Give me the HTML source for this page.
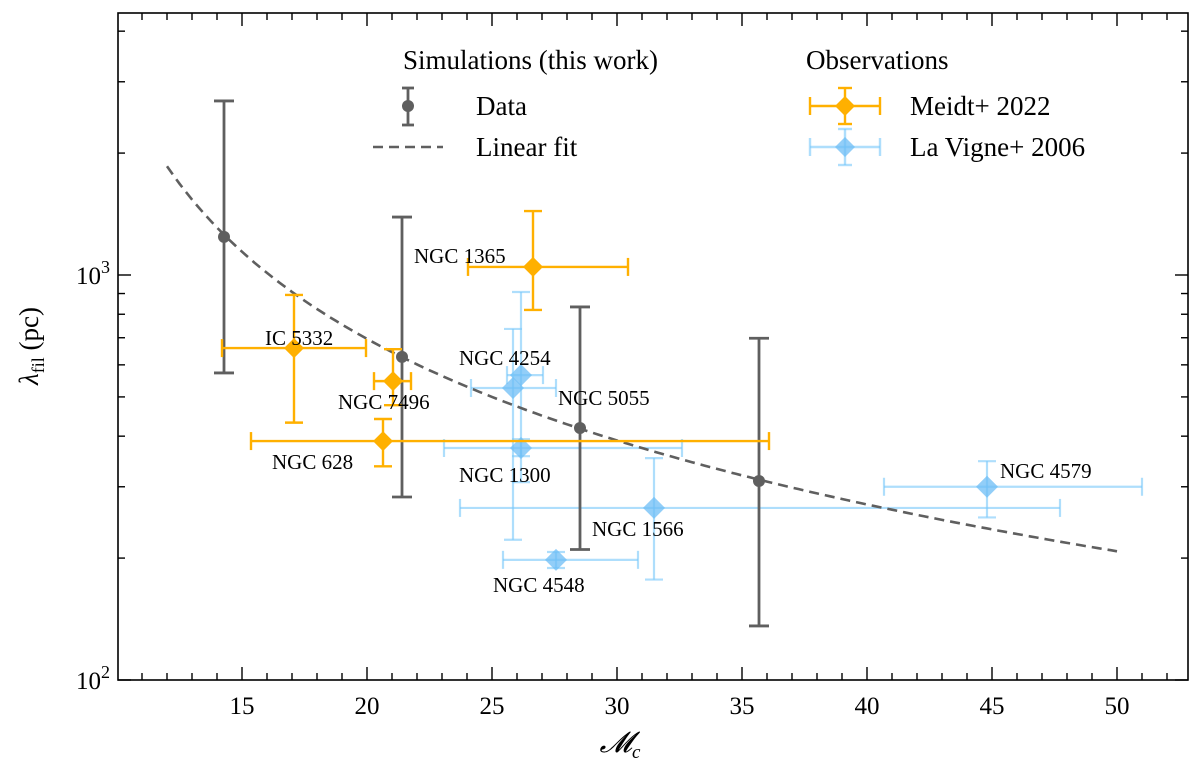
<!DOCTYPE html>
<html><head><meta charset="utf-8"><style>
body{margin:0;background:#fff}
svg text{font-family:"Liberation Serif","DejaVu Serif",serif;fill:#000}
</style></head><body>
<svg id="c" width="1200" height="771" viewBox="0 0 1200 771" xmlns="http://www.w3.org/2000/svg">
<g id="plot"></g>
</svg>
<script>
// Simulations
const simX=[14.28,21.4,28.52,35.68];
const simY=[1242,628,419,310];
const simYlo=[573,283,210,136];
const simYhi=[2690,1390,834,698];
// Linear fit: 1/lambda = a + b*M
const fitA=-0.00081, fitB=0.0001124, fitRange=[12,50];
// Meidt+2022
const meidtNames=["NGC 1365","IC 5332","NGC 7496","NGC 628"];
const meidtX=[26.64,17.08,21.04,20.64];
const meidtXlo=[24.04,14.2,20.28,15.36];
const meidtXhi=[30.44,19.96,21.76,36.08];
const meidtY=[1047,660,547,389];
const meidtYlo=[820,432,477,337];
const meidtYhi=[1438,893,656,441];
// La Vigne+2006
const lvNames=["NGC 4254","NGC 5055","NGC 1300","NGC 1566","NGC 4548","NGC 4579"];
const lvX=[26.16,25.84,26.16,31.48,27.56,44.8];
const lvXlo=[25.6,24.16,23.08,23.72,25.44,40.68];
const lvXhi=[27.04,27.56,32.6,47.72,30.84,51.0];
const lvY=[566,526,374,266,198,300];
const lvYlo=[308,222,357,177,189,252];
const lvYhi=[908,736,393,353,207,347];
const xTicks=[15,20,25,30,35,40,45,50];

const L=118,R=1188,T=13,B=680;
const X0=15,PX0=242,PPU=25;
function sx(v){return PX0+(v-X0)*PPU;}
const decade=405;
function sy(v){return B-(Math.log10(v)-2)*decade;}
const NS="http://www.w3.org/2000/svg";
const g=document.getElementById('plot');
function el(t,a,p){const e=document.createElementNS(NS,t);for(const k in a)e.setAttribute(k,a[k]);(p||g).appendChild(e);return e;}

const GR="#5f5f5f",OR="#FFB000",BL="rgba(120,200,250,0.6)",BLF="rgba(110,190,245,0.75)";
function errbar(x,y,xlo,xhi,ylo,yhi,col,w,cap,name){
  const gg=el('g',{});
  
  
  if(xlo!=null){
    el('line',{x1:sx(xlo),x2:sx(xhi),y1:sy(y),y2:sy(y),stroke:col,'stroke-width':w},gg);
    el('line',{x1:sx(xlo),x2:sx(xlo),y1:sy(y)-cap,y2:sy(y)+cap,stroke:col,'stroke-width':w},gg);
    el('line',{x1:sx(xhi),x2:sx(xhi),y1:sy(y)-cap,y2:sy(y)+cap,stroke:col,'stroke-width':w},gg);
  }
  el('line',{x1:sx(x),x2:sx(x),y1:sy(ylo),y2:sy(yhi),stroke:col,'stroke-width':w},gg);
  el('line',{x1:sx(x)-cap,x2:sx(x)+cap,y1:sy(ylo),y2:sy(ylo),stroke:col,'stroke-width':w},gg);
  el('line',{x1:sx(x)-cap,x2:sx(x)+cap,y1:sy(yhi),y2:sy(yhi),stroke:col,'stroke-width':w},gg);
  return gg;
}
function diamond(px,py,r,fill,p){return el('polygon',{points:`${px},${py-r} ${px+r},${py} ${px},${py+r} ${px-r},${py}`,fill:fill},p);}

// La Vigne first (behind)
const lvOff=[[-62,-10],[45,17],[-62,34],[-62,28],[-63,32],[13,-9]];
lvX.forEach((x,i)=>{
  const gg=errbar(x,lvY[i],lvXlo[i],lvXhi[i],lvYlo[i],lvYhi[i],BL,2.2,9,'lavigne-point-'+i);
  diamond(sx(x),sy(lvY[i]),11,BLF,gg);
});
// sim
simX.forEach((x,i)=>{
  const gg=errbar(x,simY[i],null,null,simYlo[i],simYhi[i],GR,2.8,10,'sim-point-'+i);
  el('circle',{cx:sx(x),cy:sy(simY[i]),r:6,fill:GR},gg);
});
// fit
let d="";
for(let m=fitRange[0];m<=fitRange[1]+1e-9;m+=0.25){const v=1/(fitA+fitB*m);d+=(d?"L":"M")+sx(m).toFixed(1)+","+sy(v).toFixed(1);}
const fp=el('path',{d:d,fill:'none',stroke:GR,'stroke-width':2.6,'stroke-dasharray':'10,6'});


// meidt
const mOff=[[-119,-4],[-29,-3],[-55,28],[-111,28]];
meidtX.forEach((x,i)=>{
  const gg=errbar(x,meidtY[i],meidtXlo[i],meidtXhi[i],meidtYlo[i],meidtYhi[i],OR,2.4,9,'meidt-point-'+i);
  diamond(sx(x),sy(meidtY[i]),10,OR,gg);
});
// labels
function lab(txt,px,py,name){const t=el('text',{x:px,y:py,'font-size':21});t.textContent=txt;}
meidtX.forEach((x,i)=>lab(meidtNames[i],sx(x)+mOff[i][0],sy(meidtY[i])+mOff[i][1],'label-'+meidtNames[i].replace(' ','').toLowerCase()));
lvX.forEach((x,i)=>lab(lvNames[i],sx(x)+lvOff[i][0],sy(lvY[i])+lvOff[i][1],'label-'+lvNames[i].replace(' ','').toLowerCase()));

// axes frame
const fr=el('rect',{x:L,y:T,width:R-L,height:B-T,fill:'none',stroke:'#000','stroke-width':1.6});


// x ticks
for(let v=11;v<=52;v++){
  const px=sx(v);if(px<L||px>R)continue;
  const major=v%5===0, len=major?13:7;
  el('line',{x1:px,x2:px,y1:B,y2:B-len,stroke:'#000','stroke-width':1.4});
  el('line',{x1:px,x2:px,y1:T,y2:T+len,stroke:'#000','stroke-width':1.4});
}
xTicks.forEach(v=>{const t=el('text',{x:sx(v),y:B+34,'font-size':25,'text-anchor':'middle'});t.textContent=v;});
// y ticks
for(let dcd=100;dcd<=1000;dcd*=10){for(let k=1;k<10;k++){const v=dcd*k;const py=sy(v);if(py<T||py>B)continue;const len=k===1?13:7;
  el('line',{x1:L,x2:L+len,y1:py,y2:py,stroke:'#000','stroke-width':1.4});
  el('line',{x1:R,x2:R-len,y1:py,y2:py,stroke:'#000','stroke-width':1.4});}}
[[100,"2"],[1000,"3"]].forEach(([v,e])=>{const t=el('text',{x:L-8,y:sy(v)+9,'font-size':25,'text-anchor':'end'});t.innerHTML='10<tspan dy="-11" font-size="18">'+e+'</tspan>';});
// axis titles
const yt=el('text',{x:0,y:0,'font-size':27,'text-anchor':'middle',transform:'translate(38,346) rotate(-90)'});
yt.innerHTML='<tspan font-style="italic">λ</tspan><tspan font-size="18" dy="6">fil</tspan><tspan dy="-6"> (pc)</tspan>';

const xt=el('text',{x:620,y:752,'font-size':29,'text-anchor':'middle','font-style':'italic'});
xt.innerHTML='𝓜<tspan font-size="19" dy="6">c</tspan>';


// legend
const lg=el('g',{});


function lt(txt,x,y,n){const t=el('text',{x:x,y:y,'font-size':27},lg);t.textContent=txt;}
lt('Simulations (this work)',403,69,'legend-title-sim');
lt('Observations',806,69,'legend-title-obs');
lt('Data',476,115,'legend-entry-data');
lt('Linear fit',476,156,'legend-entry-fit');
lt('Meidt+ 2022',910,115,'legend-entry-meidt');
lt('La Vigne+ 2006',910,156,'legend-entry-lavigne');
el('line',{x1:408,x2:408,y1:88,y2:125,stroke:GR,'stroke-width':2.8},lg);
el('line',{x1:402,x2:414,y1:88,y2:88,stroke:GR,'stroke-width':2.8},lg);
el('line',{x1:402,x2:414,y1:125,y2:125,stroke:GR,'stroke-width':2.8},lg);
el('circle',{cx:408,cy:106,r:6,fill:GR},lg);
el('line',{x1:373,x2:443,y1:147,y2:147,stroke:GR,'stroke-width':2.6,'stroke-dasharray':'10,6'},lg);
[[106,OR,OR],[147,BL,BLF]].forEach(([y,c,f])=>{
  el('line',{x1:810,x2:880,y1:y,y2:y,stroke:c,'stroke-width':2.4},lg);
  el('line',{x1:810,x2:810,y1:y-9,y2:y+9,stroke:c,'stroke-width':2.4},lg);
  el('line',{x1:880,x2:880,y1:y-9,y2:y+9,stroke:c,'stroke-width':2.4},lg);
  el('line',{x1:845,x2:845,y1:y-18,y2:y+18,stroke:c,'stroke-width':2.4},lg);
  el('line',{x1:838,x2:852,y1:y-18,y2:y-18,stroke:c,'stroke-width':2.4},lg);
  el('line',{x1:838,x2:852,y1:y+18,y2:y+18,stroke:c,'stroke-width':2.4},lg);
  diamond(845,y,10,f,lg);
});
</script>
</body></html>
